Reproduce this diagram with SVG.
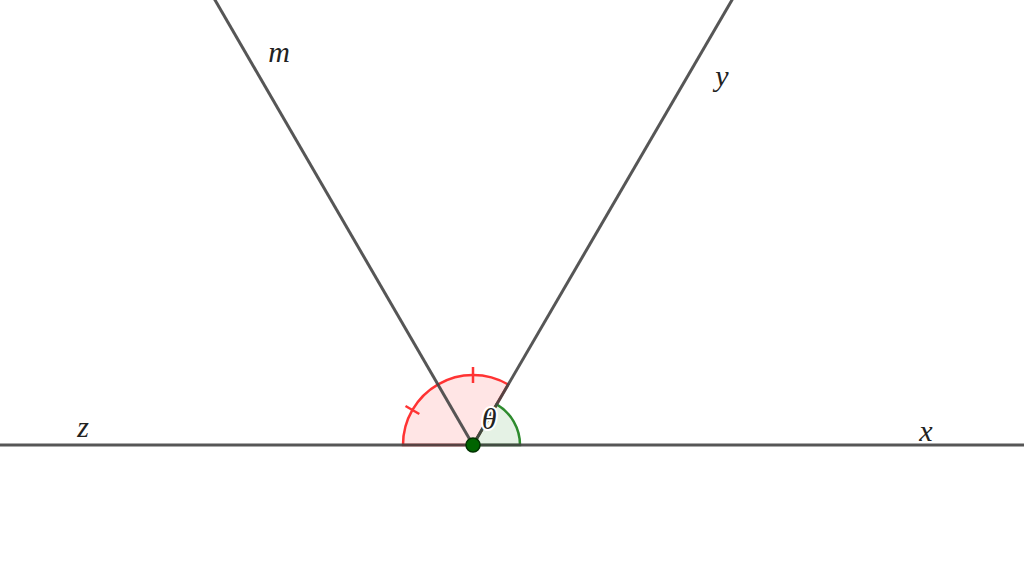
<svg xmlns="http://www.w3.org/2000/svg" width="1024" height="580" viewBox="0 0 1024 580">
<style>
.ln{stroke:#444;stroke-width:3;stroke-linecap:butt;fill:none;stroke-opacity:0.9}
.lbl{font-family:"Liberation Serif","DejaVu Serif",serif;font-style:italic;font-size:30px;fill:#222;text-anchor:middle}
.red{fill:#ff0000;fill-opacity:0.1;stroke:#ff3333;stroke-width:2.5}
.grn{fill:#008000;fill-opacity:0.1;stroke:#2e8b2e;stroke-width:2.5}
</style>
<rect width="1024" height="580" fill="#fff"/>
<g id="angles">
<path class="red" d="M473,445 L508.2,384.5 A70,70 0 0 0 403,445 Z"/>
<path class="grn" d="M473,445 L520,445 A47,47 0 0 0 496.6,404.4 Z"/>
<line x1="473" y1="383" x2="473" y2="367" stroke="#ff3333" stroke-width="2.5"/>
<line x1="419.3" y1="414" x2="405.5" y2="406" stroke="#ff3333" stroke-width="2.5"/>
</g>
<g id="connectors">
<line class="ln" x1="0" y1="445" x2="1024" y2="445"/>
<line class="ln" x1="473" y1="445" x2="209.2" y2="-10"/>
<line class="ln" x1="473" y1="445" x2="737.8" y2="-10"/>
</g>
<g id="theta">
<text class="lbl" x="489" y="429" font-size="24" stroke="#fff" stroke-width="4" stroke-linejoin="round" paint-order="stroke" fill="#1a5c1a">θ</text>
</g>
<g id="point">
<circle cx="473" cy="445" r="7" fill="#006400" stroke="#003300" stroke-width="1.5"/>
</g>
<g id="labels">
<text class="lbl" x="279" y="62">m</text>
<text class="lbl" x="722" y="86">y</text>
<text class="lbl" x="83" y="437">z</text>
<text class="lbl" x="926" y="441">x</text>
</g>
</svg>
